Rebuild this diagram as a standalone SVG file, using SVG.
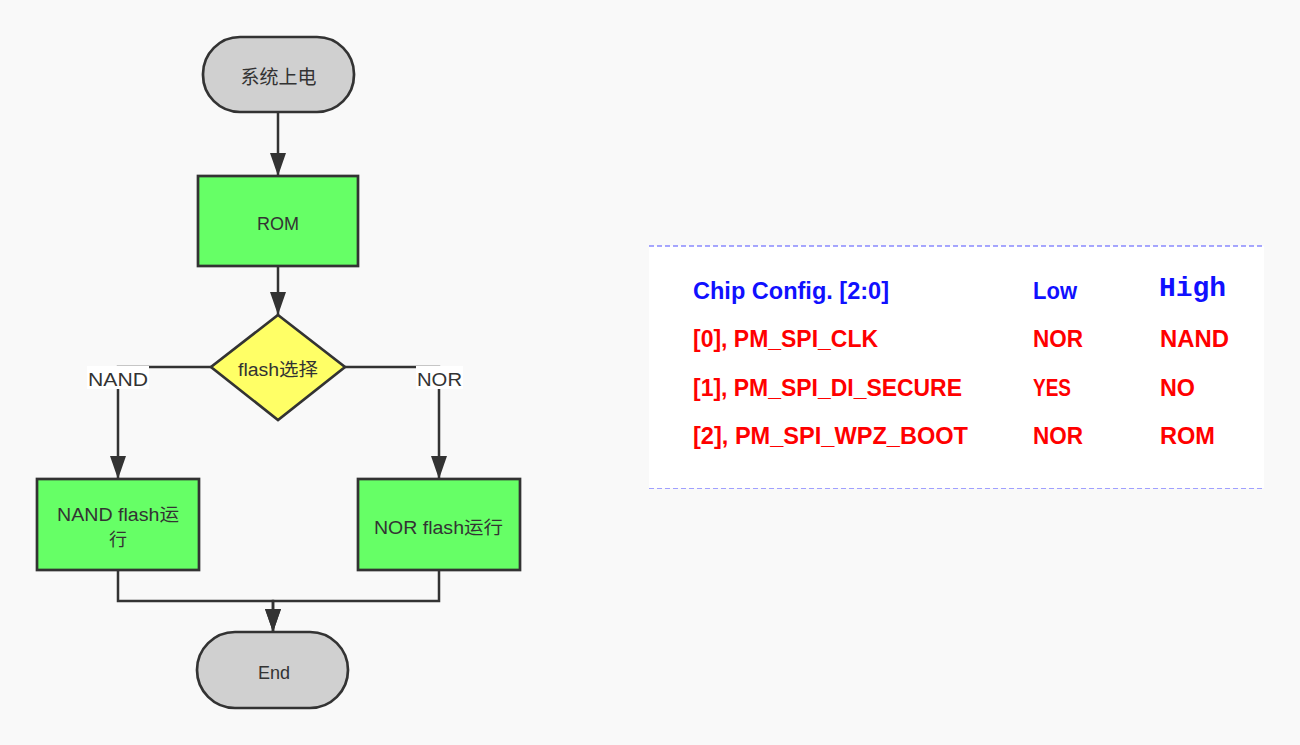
<svg xmlns="http://www.w3.org/2000/svg" width="1300" height="745" viewBox="0 0 1300 745">
<style>
.node{stroke:#333;stroke-width:2.7}
.term{fill:#d0d0d0}
.proc{fill:#66ff66}
.dec{fill:#ffff66}
.t{font-family:"Liberation Sans","Noto Sans CJK SC",sans-serif;font-size:18px;fill:#333;text-anchor:middle;dominant-baseline:central}
.conn{fill:none;stroke:#333;stroke-width:2.5}
.lbl{fill:#fff}
.tb{font-family:"Liberation Sans",sans-serif;font-weight:bold;font-size:23px}
.blue{fill:#1010ff}
.red{fill:#ff0000}
</style>
<defs>
<marker id="arr" markerUnits="userSpaceOnUse" markerWidth="24" markerHeight="17" refX="23" refY="8" orient="auto" viewBox="0 0 24 17">
<path d="M0,0 L23,8 L0,16 z" fill="#333"/>
</marker>
</defs>
<rect width="1300" height="745" fill="#f9f9f9"/>

<g id="connectors">
<path class="conn" d="M278,113 V176" marker-end="url(#arr)"/>
<path class="conn" d="M278,267 V315" marker-end="url(#arr)"/>
<path class="conn" d="M211,367 H118 V479" marker-end="url(#arr)"/>
<path class="conn" d="M345,367 H439 V479" marker-end="url(#arr)"/>
<path class="conn" d="M118,571 V601 H273 V632" marker-end="url(#arr)"/>
<path class="conn" d="M439,571 V601 H273 V632" marker-end="url(#arr)"/>
<rect class="lbl" x="87" y="366" width="62" height="23"/>
<text class="t" x="118" y="380" textLength="60" lengthAdjust="spacingAndGlyphs">NAND</text>
<rect class="lbl" x="416" y="366" width="47" height="23"/>
<text class="t" x="439.5" y="380" textLength="45" lengthAdjust="spacingAndGlyphs">NOR</text>
</g>

<g id="start">
<rect class="node term" x="203" y="37" width="151" height="75" rx="37" ry="37"/>
<text class="t" x="278.5" y="77.5" style="font-size:19px">系统上电</text>
</g>
<g id="rom">
<rect class="node proc" x="198" y="176" width="160" height="90"/>
<text class="t" x="278" y="223.5">ROM</text>
</g>
<g id="select">
<polygon class="node dec" points="278,315 345,367 278,420 211,367"/>
<text class="t" x="278" y="370" textLength="80" lengthAdjust="spacingAndGlyphs">flash选择</text>
</g>
<g id="nand">
<rect class="node proc" x="37" y="479" width="162" height="91"/>
<text class="t" x="118" y="515" textLength="122" lengthAdjust="spacingAndGlyphs">NAND flash运</text>
<text class="t" x="118" y="540">行</text>
</g>
<g id="nor">
<rect class="node proc" x="358" y="479" width="162" height="91"/>
<text class="t" x="438.5" y="528" textLength="129" lengthAdjust="spacingAndGlyphs">NOR flash运行</text>
</g>
<g id="end">
<rect class="node term" x="197" y="632" width="151" height="76" rx="38" ry="38"/>
<text class="t" x="274" y="672.5">End</text>
</g>

<g id="table">
<rect x="649" y="246" width="615" height="242" fill="#fff"/>
<line x1="649" y1="246" x2="1264" y2="246" stroke="#5050ff" stroke-width="1.2" stroke-dasharray="5 3"/>
<line x1="649" y1="488.5" x2="1264" y2="488.5" stroke="#a0a0ff" stroke-width="1.2" stroke-dasharray="5 3"/>
<text class="tb blue" x="693" y="299" textLength="196" lengthAdjust="spacingAndGlyphs">Chip Config. [2:0]</text>
<text class="tb blue" x="1033" y="299" textLength="44" lengthAdjust="spacingAndGlyphs">Low</text>
<text class="blue" x="1159" y="296" font-family="Liberation Mono, monospace" font-weight="bold" font-size="27" textLength="67" lengthAdjust="spacingAndGlyphs">High</text>
<text class="tb red" x="693" y="347" textLength="185" lengthAdjust="spacingAndGlyphs">[0], PM_SPI_CLK</text>
<text class="tb red" x="1033" y="347" textLength="50" lengthAdjust="spacingAndGlyphs">NOR</text>
<text class="tb red" x="1160" y="347" textLength="69" lengthAdjust="spacingAndGlyphs">NAND</text>
<text class="tb red" x="693" y="396" textLength="269" lengthAdjust="spacingAndGlyphs">[1], PM_SPI_DI_SECURE</text>
<text class="tb red" x="1033" y="396" textLength="38" lengthAdjust="spacingAndGlyphs">YES</text>
<text class="tb red" x="1160" y="396" textLength="35" lengthAdjust="spacingAndGlyphs">NO</text>
<text class="tb red" x="693" y="444" textLength="275" lengthAdjust="spacingAndGlyphs">[2], PM_SPI_WPZ_BOOT</text>
<text class="tb red" x="1033" y="444" textLength="50" lengthAdjust="spacingAndGlyphs">NOR</text>
<text class="tb red" x="1160" y="444" textLength="55" lengthAdjust="spacingAndGlyphs">ROM</text>
</g>
</svg>
